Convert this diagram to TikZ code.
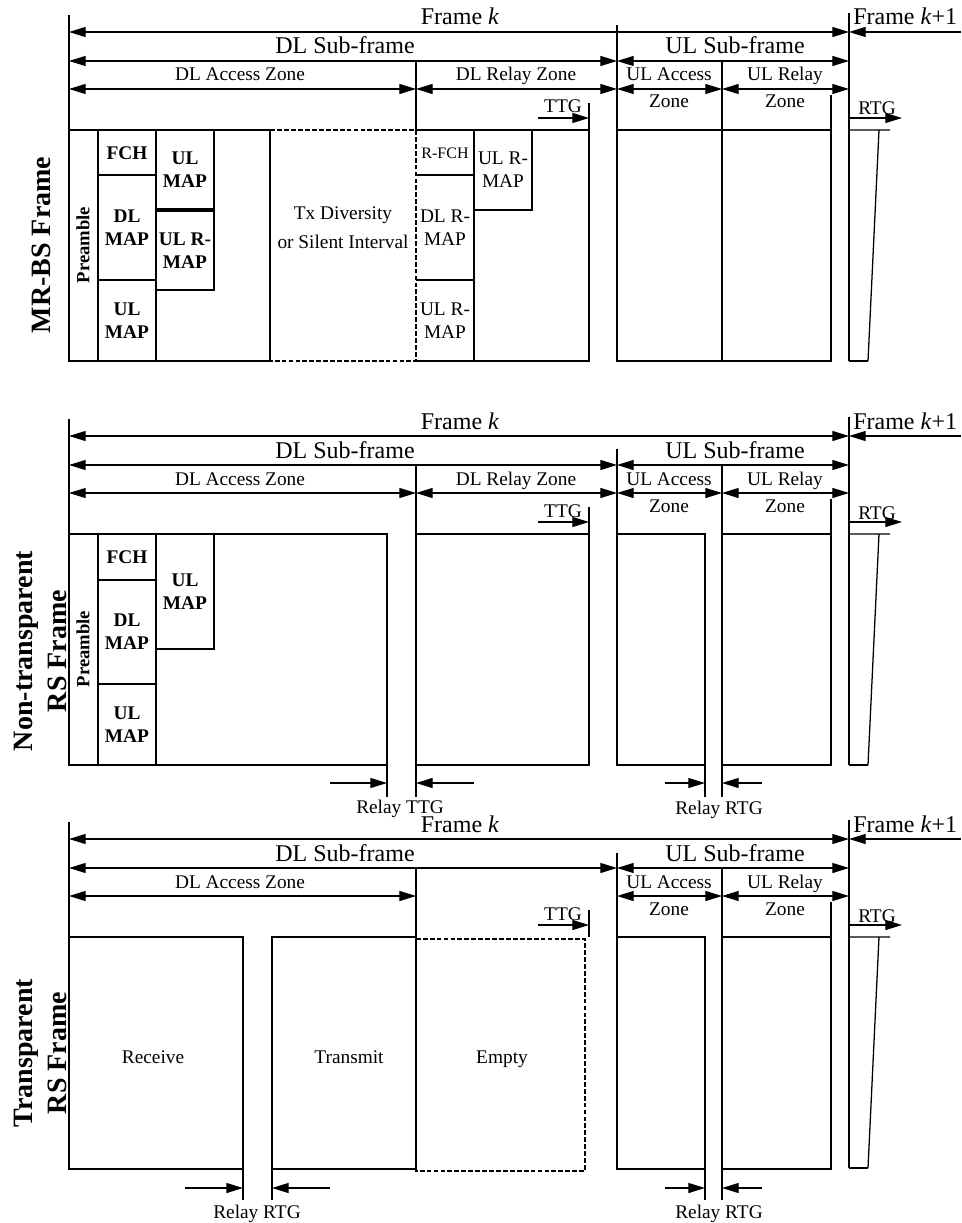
\documentclass[tikz,border=0pt]{standalone}
\usepackage{fontspec}
\setmainfont{Liberation Serif}
\usetikzlibrary{arrows.meta,positioning}
\tikzset{
  rule/.style={line width=0.95pt},
  frm/.style={line width=2.2pt},
  dsh/.style={line width=2.2pt, dash pattern=on 3.6pt off 1.6pt},
  dimarr/.style={{Triangle[length=12.5pt,width=7.5pt]}-{Triangle[length=12.5pt,width=7.5pt]}, line width=0.95pt},
  onehead/.style={-{Triangle[length=12.5pt,width=7.5pt]}, line width=0.95pt},
  big/.style={font=\fontsize{18}{20}\selectfont, inner sep=0pt, anchor=base},
  txt/.style={font=\fontsize{14.5}{17}\selectfont, inner sep=0pt, anchor=base},
  cell/.style={font=\fontsize{14.5}{17.25}\selectfont\bfseries, align=center, inner sep=0pt},
  rcell/.style={font=\fontsize{14.5}{17.25}\selectfont, align=center, inner sep=0pt},
  pre/.style={font=\fontsize{14}{16}\selectfont\bfseries, rotate=90, inner sep=0pt},
  ttl/.style={font=\fontsize{21}{25.5}\selectfont\bfseries, align=center, rotate=90, inner sep=0pt},
}
\begin{document}
\begin{tikzpicture}[x=0.75pt,y=-0.75pt]
  \useasboundingbox (0,0) rectangle (961,1223);
  % rulers above each of the three frames
  \foreach \oy/\p/\vt/\ea/\eb in {0/a/25/130/130,404/b/45/393/393,807/c/46/130/393}{
    \begin{scope}[shift={(0,\oy)}]
      \coordinate (k0\p) at (69,32); \coordinate (k1\p) at (849,32); \coordinate (k2\p) at (961,32);
      \coordinate (d0\p) at (69,61); \coordinate (d1\p) at (617,61); \coordinate (d2\p) at (849,61);
      \coordinate (z0\p) at (69,89); \coordinate (z1\p) at (416,89); \coordinate (z2\p) at (617,89);
      \coordinate (z3\p) at (722,89); \coordinate (z4\p) at (849,89);
      \draw[rule] (69,15) -- (69,130) (849,13) -- (849,361) (617,\vt) -- (617,130);
      \draw[rule] (416,61) -- (416,\ea) (722,61) -- (722,\eb);
      \draw[dimarr] (k0\p) -- (k1\p);
      \draw[onehead] (k2\p) -- (k1\p);
      \draw[dimarr] (d0\p) -- (d1\p);
      \draw[dimarr] (d1\p) -- (d2\p);
      \draw[dimarr] (z0\p) -- (z1\p);
      \draw[dimarr] (z2\p) -- (z3\p);
      \draw[dimarr] (z3\p) -- (z4\p);
      \node[big] (fk\p) at (460,25) {Frame \textit{k}};
      \node[big, anchor=base west] (fn\p) at (853,25) {Frame \textit{k}+1};
      \node[big] (dsf\p) at (345,54) {DL Sub-frame};
      \node[big] (usf\p) at (735,54) {UL Sub-frame};
      \node[txt] (daz\p) at (240,81) {DL Access Zone};
      \node[txt] (uaz\p) at (669,81) {UL Access};
      \node[txt] (uazb\p) at (669,108) {Zone};
      \node[txt] (urz\p) at (785,81) {UL Relay};
      \node[txt] (urzb\p) at (785,108) {Zone};
      % TTG and RTG
      \coordinate (t0\p) at (538,118); \coordinate (t1\p) at (589,118);
      \coordinate (r0\p) at (850,118); \coordinate (r1\p) at (902,118);
      \draw[rule] (589,103) -- (589,130);
      \draw[frm] (831,95) -- (831,130);
      \node[txt] (ttg\p) at (563,113) {TTG};
      \node[txt] (rtg\p) at (877,115) {RTG};
      \draw[onehead] (t0\p) -- (t1\p);
      \draw[onehead] (r0\p) -- (r1\p);
      \draw[rule] (849,130) -- (890,130) (879,130) -- (868,361);
      \draw[line width=1.5pt] (849,361) -- (868,361);
    \end{scope}
  }
  \draw[dimarr] (z1a) -- (z2a);
  \node[txt] (drza) at (516,81) {DL Relay Zone};
  \draw[dimarr] (z1b) -- (z2b);
  \node[txt] (drzb) at (516,485) {DL Relay Zone};

  % MR-BS frame
  \node[ttl] (mrbs) at (41,245) {MR-BS Frame};
  \draw[frm] (69,130) rectangle (270,361);
  \draw[frm] (98,130) -- (98,361) (98,175) -- (156,175) (98,280) -- (156,280) (156,130) -- (156,361);
  \draw[frm] (156,130) rectangle (214,209); \draw[frm] (156,211) rectangle (214,290);
  \node[pre] (prea) at (83,245) {Preamble};
  \node[cell] (fcha) at (127,153) {FCH};
  \node[cell] (dlmapa) at (127,228) {DL\\MAP};
  \node[cell] (ulmapa) at (127,321) {UL\\MAP};
  \node[cell] (ulmapc) at (185,170) {UL\\MAP};
  \node[cell] (ulrmapa) at (185,251) {UL R-\\MAP};
  \draw[dsh] (270,130) rectangle (416,361);
  \node[rcell, font=\fontsize{14.5}{21.75}\selectfont] (txdiv) at (343,228) {Tx Diversity\\or Silent Interval};
  \draw[frm] (416,130) -- (589,130) -- (589,361) -- (416,361);
  \draw[frm] (416,175) -- (474,175) (416,280) -- (474,280) (474,130) -- (474,361) (474,210) -- (532,210) -- (532,130);
  \node[rcell, font=\fontsize{12}{14}\selectfont] (rfch) at (445,153) {R-FCH};
  \node[rcell] (dlrmap) at (445,228) {DL R-\\MAP};
  \node[rcell] (ulrmapb) at (445,321) {UL R-\\MAP};
  \node[rcell] (ulrmapc) at (503,170) {UL R-\\MAP};
  \draw[frm] (617,130) rectangle (722,361) (722,130) rectangle (831,361);

  % non-transparent RS frame
  \begin{scope}[shift={(0,404)}]
    \node[ttl] (ntrs) at (40,247) {Non-transparent\\RS Frame};
    \draw[frm] (69,130) rectangle (387,361);
    \draw[frm] (98,130) -- (98,361) (98,176) -- (156,176) (98,280) -- (156,280) (156,130) -- (156,361);
    \draw[frm] (156,245) -- (214,245) -- (214,130);
    \node[pre] (preb) at (83,245) {Preamble};
    \node[cell] (fchb) at (127,153) {FCH};
    \node[cell] (dlmapb) at (127,228) {DL\\MAP};
    \node[cell] (ulmapb) at (127,321) {UL\\MAP};
    \node[cell] (ulmapd) at (185,188) {UL\\MAP};
    \draw[frm] (416,130) rectangle (589,361);
    \draw[frm] (617,130) rectangle (705,361) (722,130) rectangle (831,361);
    % relay gaps
    \coordinate (g0) at (330,379); \coordinate (g1) at (387,379);
    \coordinate (g2) at (474,379); \coordinate (g3) at (416,379);
    \coordinate (h0) at (665,379); \coordinate (h1) at (705,379);
    \coordinate (h2) at (762,379); \coordinate (h3) at (722,379);
    \draw[rule] (387,361) -- (387,393) (705,361) -- (705,393);
    \draw[onehead] (g0) -- (g1); \draw[onehead] (g2) -- (g3);
    \draw[onehead] (h0) -- (h1); \draw[onehead] (h2) -- (h3);
    \node[txt] (rttg) at (400,409) {Relay TTG};
    \node[txt] (rrtgb) at (719,410) {Relay RTG};
  \end{scope}

  % transparent RS frame
  \begin{scope}[shift={(0,807)}]
    \node[ttl] (trs) at (40,246) {Transparent\\RS Frame};
    \draw[frm] (69,130) rectangle (243,362) (272,130) rectangle (416,362);
    \draw[dsh] (416,132) rectangle (585,364);
    \draw[frm] (617,130) rectangle (705,362) (722,130) rectangle (831,362);
    \node[txt] (recv) at (153,256) {Receive};
    \node[txt] (xmit) at (349,256) {Transmit};
    \node[txt] (empty) at (502,256) {Empty};
    \coordinate (m0) at (185,381); \coordinate (m1) at (243,381);
    \coordinate (m2) at (330,381); \coordinate (m3) at (272,381);
    \coordinate (n0) at (665,381); \coordinate (n1) at (705,381);
    \coordinate (n2) at (762,381); \coordinate (n3) at (722,381);
    \draw[rule] (243,362) -- (243,393) (272,362) -- (272,393) (705,362) -- (705,393);
    \draw[onehead] (m0) -- (m1); \draw[onehead] (m2) -- (m3);
    \draw[onehead] (n0) -- (n1); \draw[onehead] (n2) -- (n3);
    \node[txt] (rrtgc) at (257,411) {Relay RTG};
    \node[txt] (rrtgd) at (719,411) {Relay RTG};
  \end{scope}
\end{tikzpicture}
\end{document}
